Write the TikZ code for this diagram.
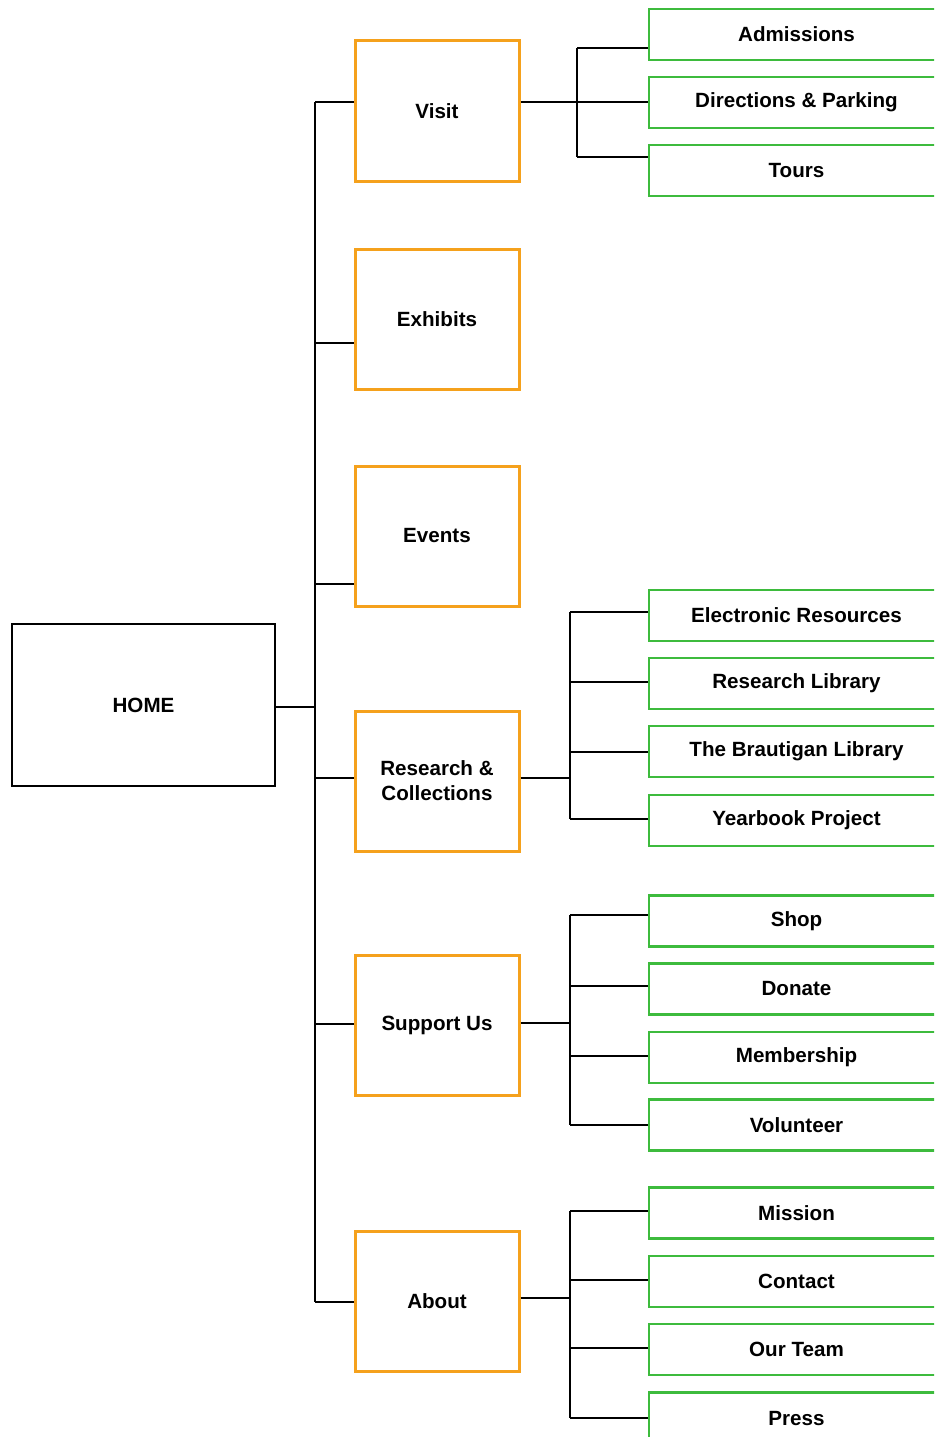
\documentclass[tikz,border=0pt]{standalone}
\usepackage{fontspec}
\setmainfont{Liberation Sans}
\definecolor{obox}{HTML}{F5A11C}
\definecolor{gbox}{HTML}{3DBB3D}
\begin{document}
\begin{tikzpicture}[x=1pt,y=-1pt,
  lab/.style={font=\fontsize{20.6}{25}\selectfont\bfseries, text=black, align=center, inner sep=0pt},
  homebox/.style={lab, draw=black, line width=2pt, minimum width=263pt, minimum height=162pt},
  obx/.style={lab, draw=obox, line width=3pt, minimum width=164pt, minimum height=140pt},
  gbx/.style={lab, draw=gbox, line width=2.4pt, minimum width=295pt, minimum height=51pt},
  conn/.style={draw=black, line width=1.6pt}]
\useasboundingbox (0,0) rectangle (934,1437);
\clip (0,0) rectangle (934,1437);
\fill[white] (0,0) rectangle (934,1437);

% HOME
\node[homebox] (home) at (143.5,705) {HOME};

% level 1
\node[obx] (vis) at (437,111) {Visit};
\node[obx] (exh) at (437,319) {Exhibits};
\node[obx] (evt) at (437,536) {Events};
\node[obx] (res) at (437,781) {Research \&\\Collections};
\node[obx] (sup) at (437,1025) {Support Us};
\node[obx] (abt) at (437,1301) {About};

% level 2 (right edge cut by the page)
\node[gbx] (adm) at (796.5,34.5) {Admissions};
\node[gbx] (dir) at (796.5,102.5) {Directions \& Parking};
\node[gbx] (tou) at (796.5,170.5) {Tours};
\node[gbx] (ele) at (796.5,615.5) {Electronic Resources};
\node[gbx] (rlb) at (796.5,683.5) {Research Library};
\node[gbx] (bra) at (796.5,751.5) {The Brautigan Library};
\node[gbx] (yea) at (796.5,820.5) {Yearbook Project};
\node[gbx] (sho) at (796.5,921) {Shop};
\node[gbx] (don) at (796.5,989) {Donate};
\node[gbx] (mem) at (796.5,1057.5) {Membership};
\node[gbx] (vol) at (796.5,1125) {Volunteer};
\node[gbx] (mis) at (796.5,1213) {Mission};
\node[gbx] (con) at (796.5,1281.5) {Contact};
\node[gbx] (tea) at (796.5,1349.5) {Our Team};
\node[gbx] (pre) at (796.5,1418) {Press};

% trunk
\coordinate (t1) at (315,102);
\coordinate (t2) at (315,1302);
\draw[conn] (t1) -- (t2);
\draw[conn] (home.east |- 0,707) -- (315,707);
\draw[conn] (315,102) -- (vis.west |- 0,102);
\draw[conn] (315,343) -- (exh.west |- 0,343);
\draw[conn] (315,584) -- (evt.west |- 0,584);
\draw[conn] (315,778) -- (res.west |- 0,778);
\draw[conn] (315,1024) -- (sup.west |- 0,1024);
\draw[conn] (315,1302) -- (abt.west |- 0,1302);

% Visit bracket
\draw[conn] (vis.east |- 0,102) -- (577,102);
\draw[conn] (577,48) -- (577,157);
\draw[conn] (577,48) -- (adm.west |- 0,48);
\draw[conn] (577,102) -- (dir.west |- 0,102);
\draw[conn] (577,157) -- (tou.west |- 0,157);

% Research bracket
\draw[conn] (res.east |- 0,778) -- (570,778);
\draw[conn] (570,612) -- (570,819);
\draw[conn] (570,612) -- (ele.west |- 0,612);
\draw[conn] (570,682) -- (rlb.west |- 0,682);
\draw[conn] (570,752) -- (bra.west |- 0,752);
\draw[conn] (570,819) -- (yea.west |- 0,819);

% Support bracket
\draw[conn] (sup.east |- 0,1023) -- (570,1023);
\draw[conn] (570,915) -- (570,1125);
\draw[conn] (570,915) -- (sho.west |- 0,915);
\draw[conn] (570,986) -- (don.west |- 0,986);
\draw[conn] (570,1056) -- (mem.west |- 0,1056);
\draw[conn] (570,1125) -- (vol.west |- 0,1125);

% About bracket
\draw[conn] (abt.east |- 0,1298) -- (570,1298);
\draw[conn] (570,1211) -- (570,1418);
\draw[conn] (570,1211) -- (mis.west |- 0,1211);
\draw[conn] (570,1280) -- (con.west |- 0,1280);
\draw[conn] (570,1348) -- (tea.west |- 0,1348);
\draw[conn] (570,1418) -- (pre.west |- 0,1418);
\end{tikzpicture}
\end{document}
